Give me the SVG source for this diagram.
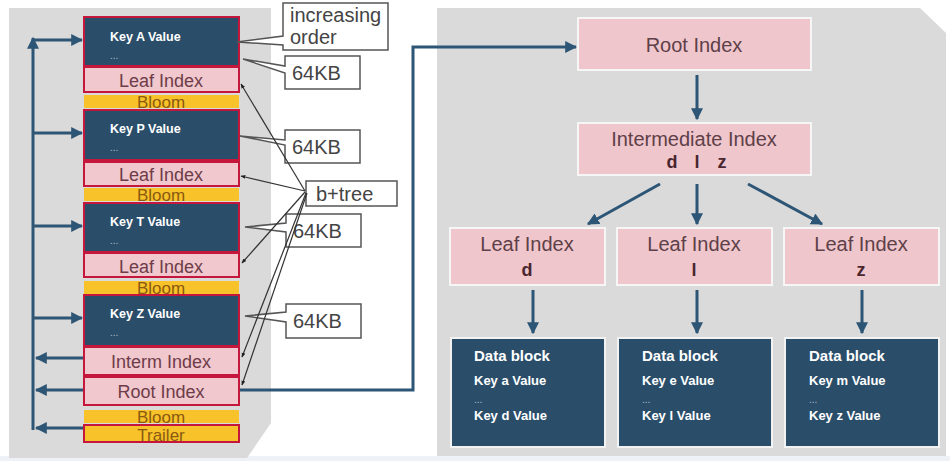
<svg xmlns="http://www.w3.org/2000/svg" width="950" height="461" viewBox="0 0 950 461">
<defs>
<style>
.panel{fill:#dadada}
.key{fill:#2a4e6a;stroke:#c4173b;stroke-width:2}
.leaf{fill:#f0c8ce;stroke:#c4173b;stroke-width:2}
.bloom{fill:#f8c22a}
.trailer{fill:#f8c22a;stroke:#c4173b;stroke-width:2}
.pk{fill:#efc6cc;stroke:#f6f6f6;stroke-width:2}
.db{fill:#2a4e6a;stroke:#f2f2f2;stroke-width:2}
.kt{font-family:"Liberation Sans",Arial,sans-serif;font-weight:bold;fill:#ffffff;font-size:12.5px}
.dots{font-family:"Liberation Sans",Arial,sans-serif;fill:#b0bcc8;font-size:10px}
.lt{font-family:"Liberation Sans",Arial,sans-serif;fill:#6e3c48;font-size:18px;text-anchor:middle}
.bt{font-family:"Liberation Sans",Arial,sans-serif;fill:#8a5a10;font-size:17px;text-anchor:middle}
.rt{font-family:"Liberation Sans",Arial,sans-serif;fill:#5e4048;font-size:20px;text-anchor:middle}
.rb{font-family:"Liberation Sans",Arial,sans-serif;fill:#4a2630;font-size:18px;font-weight:bold;text-anchor:middle}
.dt{font-family:"Liberation Sans",Arial,sans-serif;fill:#ffffff;font-weight:bold}
.co{fill:#ffffff;stroke:#555555;stroke-width:1.5}
.ct{font-family:"Liberation Sans",Arial,sans-serif;fill:#444444;font-size:20px}
.blue{fill:none;stroke:#2d5575;stroke-width:3}
.thin{fill:none;stroke:#333333;stroke-width:1.2}
</style>
<marker id="ab" viewBox="0 0 10 10" refX="9" refY="5" markerWidth="4" markerHeight="4" orient="auto" markerUnits="strokeWidth">
<path d="M0,0 L10,5 L0,10 z" fill="#2d5575"/>
</marker>
<marker id="ak" viewBox="0 0 10 10" refX="9" refY="5" markerWidth="4" markerHeight="4" orient="auto" markerUnits="strokeWidth">
<path d="M0,1 L10,5 L0,9 z" fill="#222222"/>
</marker>
</defs>
<rect width="950" height="461" fill="#ffffff"/>
<rect x="0" y="456" width="950" height="5" fill="#eef2f7"/>
<g id="left-panel">
<path class="panel" d="M9,8 H271 V423 L247,458 H9 Z"/>
</g>
<g id="right-panel">
<path class="panel" d="M437,8 H920 L946,33 V456 H437 Z"/>
</g>
<g id="keyA"><rect class="key" x="84" y="17" width="155" height="49"/><text class="kt" x="110" y="41">Key A Value</text><text class="dots" x="110" y="59">...</text></g>
<g id="leafA"><rect class="leaf" x="84" y="67" width="155" height="25"/><text class="lt" x="161" y="87">Leaf Index</text></g>
<g id="bloomA"><rect class="bloom" x="84" y="95" width="155" height="13"/><text class="bt" x="161" y="108">Bloom</text></g>
<g id="keyP"><rect class="key" x="84" y="110" width="155" height="50"/><text class="kt" x="110" y="133">Key P Value</text><text class="dots" x="110" y="151">...</text></g>
<g id="leafP"><rect class="leaf" x="84" y="162" width="155" height="24"/><text class="lt" x="161" y="181">Leaf Index</text></g>
<g id="bloomP"><rect class="bloom" x="84" y="188" width="155" height="13"/><text class="bt" x="161" y="201">Bloom</text></g>
<g id="keyT"><rect class="key" x="84" y="203" width="155" height="49"/><text class="kt" x="110" y="226">Key T Value</text><text class="dots" x="110" y="244">...</text></g>
<g id="leafT"><rect class="leaf" x="84" y="253" width="155" height="24"/><text class="lt" x="161" y="273">Leaf Index</text></g>
<g id="bloomT"><rect class="bloom" x="84" y="281" width="155" height="13"/><text class="bt" x="161" y="294">Bloom</text></g>
<g id="keyZ"><rect class="key" x="84" y="295" width="155" height="51"/><text class="kt" x="110" y="318">Key Z Value</text><text class="dots" x="110" y="336">...</text></g>
<g id="interm"><rect class="leaf" x="84" y="347" width="155" height="28"/><text class="lt" x="161" y="368">Interm Index</text></g>
<g id="rootL"><rect class="leaf" x="84" y="377" width="155" height="28"/><text class="lt" x="161" y="398">Root Index</text></g>
<g id="bloomR"><rect class="bloom" x="84" y="410" width="155" height="13"/><text class="bt" x="161" y="423">Bloom</text></g>
<g id="trailer"><rect class="trailer" x="84" y="425" width="155" height="17"/><text class="bt" x="161" y="441">Trailer</text></g>

<g id="callout-order"><path class="co" d="M283,3 H388 V50 H283 V45 L237,42 L283,36 Z"/><text class="ct" x="290" y="22" font-size="18">increasing</text><text class="ct" x="290" y="44" font-size="18">order</text></g>
<g id="callout-64a"><path class="co" d="M285,56 H360 V89 H285 V73 L243,59 L285,66 Z"/><text class="ct" x="292" y="80">64KB</text></g>
<g id="callout-64b"><path class="co" d="M285,130 H360 V163 H285 V145 L240,136 L285,140 Z"/><text class="ct" x="292" y="154">64KB</text></g>
<g id="callout-btree"><rect class="co" x="306" y="181" width="91" height="25"/><text class="ct" x="316" y="201" font-size="21">b+tree</text></g>
<g id="callout-64c"><path class="co" d="M286,214 H361 V247 H286 V232 L245,227 L286,223 Z"/><text class="ct" x="293" y="238">64KB</text></g>
<g id="callout-64d"><path class="co" d="M286,304 H361 V338 H286 V322 L245,316 L286,312 Z"/><text class="ct" x="293" y="328">64KB</text></g>

<g id="rootR"><rect class="pk" x="578" y="18" width="233" height="52"/><text class="rt" x="694" y="52">Root Index</text></g>
<g id="intermR"><rect class="pk" x="578" y="123" width="233" height="52"/><text class="rt" x="694" y="146">Intermediate Index</text><text class="rb" y="168"><tspan x="672">d</tspan><tspan x="697">l</tspan><tspan x="722">z</tspan></text></g>
<g id="leafD"><rect class="pk" x="450" y="228" width="155" height="57"/><text class="rt" x="527" y="251">Leaf Index</text><text class="rb" x="527" y="276">d</text></g>
<g id="leafL"><rect class="pk" x="617" y="228" width="155" height="57"/><text class="rt" x="694" y="251">Leaf Index</text><text class="rb" x="694" y="276">l</text></g>
<g id="leafZ"><rect class="pk" x="784" y="228" width="155" height="57"/><text class="rt" x="861" y="251">Leaf Index</text><text class="rb" x="861" y="276">z</text></g>
<g id="dataD"><rect class="db" x="451" y="338" width="154" height="109"/><text class="dt" x="474" y="361" font-size="15">Data block</text><text class="dt" x="474" y="385" font-size="13">Key a Value</text><text class="dots" x="474" y="403">...</text><text class="dt" x="474" y="420" font-size="13">Key d Value</text></g>
<g id="dataL"><rect class="db" x="618" y="338" width="154" height="109"/><text class="dt" x="642" y="361" font-size="15">Data block</text><text class="dt" x="642" y="385" font-size="13">Key e Value</text><text class="dots" x="642" y="403">...</text><text class="dt" x="642" y="420" font-size="13">Key l Value</text></g>
<g id="dataZ"><rect class="db" x="785" y="338" width="154" height="109"/><text class="dt" x="809" y="361" font-size="15">Data block</text><text class="dt" x="809" y="385" font-size="13">Key m Value</text><text class="dots" x="809" y="403">...</text><text class="dt" x="809" y="420" font-size="13">Key z Value</text></g>

<g id="connectors">
<path class="blue" d="M33,430 V38" marker-end="url(#ab)"/>
<path class="blue" d="M33,40 H82" marker-end="url(#ab)"/>
<path class="blue" d="M33,133 H82" marker-end="url(#ab)"/>
<path class="blue" d="M33,226 H82" marker-end="url(#ab)"/>
<path class="blue" d="M33,318 H82" marker-end="url(#ab)"/>
<path class="blue" d="M83,358 H36" marker-end="url(#ab)"/>
<path class="blue" d="M83,390 H36" marker-end="url(#ab)"/>
<path class="blue" d="M83,428 H36" marker-end="url(#ab)"/>
<path class="blue" d="M240,390 H413 V47 H576" marker-end="url(#ab)"/>
<path class="blue" d="M697,75 V119" marker-end="url(#ab)"/>
<path class="blue" d="M660,184 L588,224" marker-end="url(#ab)"/>
<path class="blue" d="M697,184 V224" marker-end="url(#ab)"/>
<path class="blue" d="M748,184 L822,224" marker-end="url(#ab)"/>
<path class="blue" d="M533,290 V333" marker-end="url(#ab)"/>
<path class="blue" d="M697,290 V333" marker-end="url(#ab)"/>
<path class="blue" d="M862,290 V333" marker-end="url(#ab)"/>
<path class="thin" d="M305,191 L241,84" marker-end="url(#ak)"/>
<path class="thin" d="M305,191 L241,176" marker-end="url(#ak)"/>
<path class="thin" d="M305,192 L242,263" marker-end="url(#ak)"/>
<path class="thin" d="M306,193 L242,357" marker-end="url(#ak)"/>
<path class="thin" d="M307,193 L242,385" marker-end="url(#ak)"/>
</g>
</svg>
